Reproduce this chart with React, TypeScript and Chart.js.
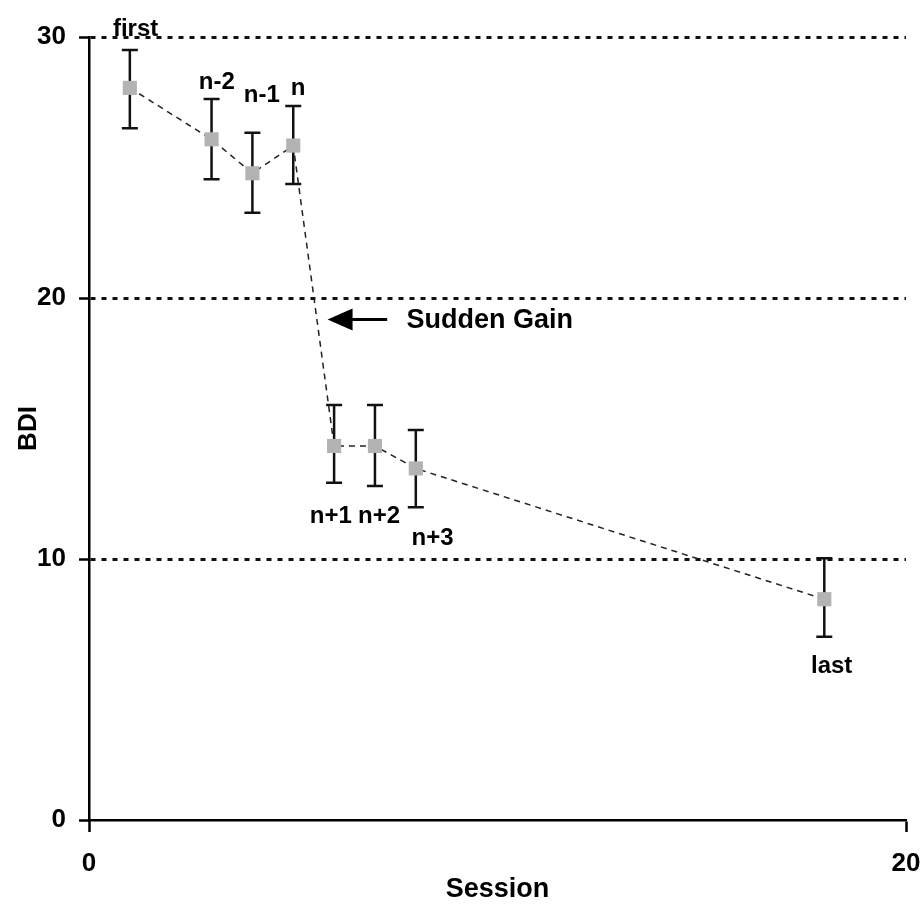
import { useEffect, useRef } from "react";
import { Chart, registerables } from "chart.js";

Chart.register(...registerables);

// ---- data ----
const sessions = [1, 3, 4, 5, 6, 7, 8, 18];
const bdiMeans = [28.05, 26.08, 24.78, 25.84, 14.33, 14.33, 13.47, 8.46];
const bdiLower = [26.5, 24.55, 23.27, 24.37, 12.92, 12.8, 11.98, 7.02];
const bdiUpper = [29.5, 27.62, 26.33, 27.36, 15.9, 15.9, 14.94, 10.03];
const pointLabels = ["first", "n-2", "n-1", "n", "n+1", "n+2", "n+3", "last"];
const labelX = [1.14, 3.13, 4.23, 5.12, 5.92, 7.1, 8.41, 18.18];
const labelY = [30.04, 27.99, 27.52, 27.78, 11.37, 11.37, 10.54, 5.63];
const xTicks = [0, 20];
const yTicks = [0, 10, 20, 30];
const annotationText = "Sudden Gain";
const arrowTip = [5.84, 19.18];
const arrowTail = [7.3, 19.18];
const annotationAnchor = [7.77, 18.85];

const FONT = "'Liberation Sans', Arial, sans-serif";

const overlayPlugin = {
  id: "overlay",
  beforeDatasetsDraw(chart: any) {
    const { ctx, scales } = chart;
    const xs = scales.x;
    const ys = scales.y;
    ctx.save();
    ctx.strokeStyle = "#111";
    ctx.lineWidth = 2.5;
    const cap = 8;
    sessions.forEach((s, i) => {
      const px = xs.getPixelForValue(s);
      const top = ys.getPixelForValue(bdiUpper[i]);
      const bot = ys.getPixelForValue(bdiLower[i]);
      ctx.beginPath();
      ctx.moveTo(px, top);
      ctx.lineTo(px, bot);
      ctx.moveTo(px - cap, top);
      ctx.lineTo(px + cap, top);
      ctx.moveTo(px - cap, bot);
      ctx.lineTo(px + cap, bot);
      ctx.stroke();
    });
    ctx.restore();
  },
  afterDraw(chart: any) {
    const { ctx, scales } = chart;
    const xs = scales.x;
    const ys = scales.y;
    ctx.save();
    ctx.fillStyle = "#000";
    ctx.font = `bold 24px ${FONT}`;
    ctx.textAlign = "center";
    ctx.textBaseline = "alphabetic";
    pointLabels.forEach((t, i) => {
      ctx.fillText(t, xs.getPixelForValue(labelX[i]), ys.getPixelForValue(labelY[i]));
    });
    // arrow
    const tx = xs.getPixelForValue(arrowTip[0]);
    const ty = ys.getPixelForValue(arrowTip[1]);
    const ex = xs.getPixelForValue(arrowTail[0]);
    const ey = ys.getPixelForValue(arrowTail[1]);
    ctx.strokeStyle = "#000";
    ctx.lineWidth = 3;
    ctx.beginPath();
    ctx.moveTo(tx + 20, ty);
    ctx.lineTo(ex, ey);
    ctx.stroke();
    ctx.beginPath();
    ctx.moveTo(tx, ty);
    ctx.lineTo(tx + 25, ty - 11);
    ctx.lineTo(tx + 25, ty + 11);
    ctx.closePath();
    ctx.fill();
    ctx.font = `bold 27px ${FONT}`;
    ctx.textAlign = "left";
    ctx.fillText(
      annotationText,
      xs.getPixelForValue(annotationAnchor[0]),
      ys.getPixelForValue(annotationAnchor[1])
    );
    ctx.restore();
  },
};

export default function App() {
  const ref = useRef<HTMLCanvasElement>(null);
  useEffect(() => {
    document.body.style.margin = "0";
    if (!ref.current) return;
    const chart = new Chart(ref.current, {
      type: "line",
      data: {
        datasets: [
          {
            data: sessions.map((s, i) => ({ x: s, y: bdiMeans[i] })),
            borderColor: "#222",
            borderWidth: 1.5,
            borderDash: [6, 5],
            pointStyle: "rect",
            pointRadius: 10,
            pointBorderWidth: 0,
            pointBackgroundColor: "#b3b3b3",
            pointBorderColor: "#b3b3b3",
            tension: 0,
          },
        ],
      },
      options: {
        responsive: false,
        animation: false,
        devicePixelRatio: 1,
        layout: { padding: { top: 37, right: 18, left: 0, bottom: 0 } },
        plugins: { legend: { display: false }, tooltip: { enabled: false } },
        scales: {
          x: {
            type: "linear",
            min: 0,
            max: 20,
            afterBuildTicks: (scale: any) => {
              scale.ticks = xTicks.map((v) => ({ value: v }));
            },
            afterFit: (scale: any) => {
              scale.height = 86;
              scale.paddingLeft = 0;
              scale.paddingRight = 0;
            },
            grid: {
              drawOnChartArea: false,
              tickLength: 12,
              tickWidth: 2.5,
              tickColor: "#000",
              color: "#000",
            },
            border: { color: "#000", width: 2.5 },
            ticks: {
              color: "#000",
              padding: 16,
              maxRotation: 0,
              font: { family: FONT, size: 26, weight: "bold" },
            },
            title: {
              display: true,
              text: "Session",
              color: "#000",
              padding: { top: 0, bottom: 0 },
              font: { family: FONT, size: 27, weight: "bold" },
            },
          },
          y: {
            type: "linear",
            min: 0,
            max: 30,
            afterBuildTicks: (scale: any) => {
              scale.ticks = yTicks.map((v) => ({ value: v }));
            },
            afterFit: (scale: any) => {
              scale.width = 89;
              scale.paddingTop = 0;
              scale.paddingBottom = 0;
            },
            grid: {
              tickLength: 10,
              tickWidth: 2.5,
              tickColor: "#000",
              lineWidth: 3,
              tickBorderDash: [],
              color: (c: any) => (c.tick && c.tick.value === 0 ? "rgba(0,0,0,0)" : "#111"),
            },
            border: { color: "#000", width: 2.5, dash: [5, 6] },
            ticks: {
              color: "#000",
              padding: 13,
              font: { family: FONT, size: 26, weight: "bold" },
            },
            title: {
              display: true,
              text: "BDI",
              color: "#000",
              padding: { top: 13, bottom: 0 },
              font: { family: FONT, size: 26, weight: "bold" },
            },
          },
        },
      },
      plugins: [overlayPlugin],
    } as any);
    return () => chart.destroy();
  }, []);
  return (
    <div style={{ width: 924, height: 906 }}>
      <canvas ref={ref} width={924} height={906} style={{ display: "block" }} />
    </div>
  );
}
